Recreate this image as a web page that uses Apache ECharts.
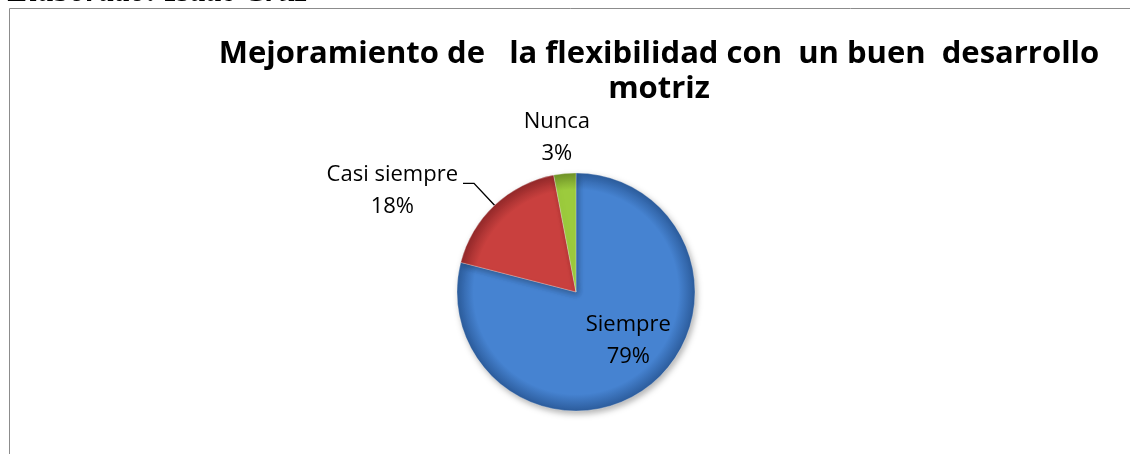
<!DOCTYPE html>
<html>
<head>
<meta charset="utf-8">
<script src="https://cdn.jsdelivr.net/npm/echarts@6/dist/echarts.min.js"></script>
<style>html,body{margin:0;padding:0;background:#fff}#c{width:1130px;height:454px}</style>
</head>
<body>
<div id="c"></div>
<script>
const categories = ['Siempre', 'Casi siempre', 'Nunca'];
const values = [79, 18, 3];
const percentLabels = ['79%', '18%', '3%'];
const titleLines = ['Mejoramiento de   la flexibilidad con  un buen  desarrollo', 'motriz'];
const sourceNote = 'Elaborado: Isaac Cruz';

const cx = 576, cy = 292, R = 119;
function shade(base, dark) {
  return { type: 'radial', x: cx, y: cy, r: R, global: true,
    colorStops: [{offset: 0, color: base}, {offset: 0.86, color: base}, {offset: 1, color: dark}] };
}
const colors = [shade('#4683d1', '#2c5c9c'), shade('#c9403e', '#93292a'), shade('#9ccb3d', '#6f9228')];

const chart = echarts.init(document.getElementById('c'));
const data = categories.map((n, i) => ({ name: n, value: values[i], pct: percentLabels[i] }));
data[1].labelLine = { show: true };
data[0].label = { position: 'inside' };

chart.setOption({
  animation: false,
  graphic: [
    { type: 'rect', shape: { x: 9.5, y: 8.5, width: 1300, height: 600 }, style: { fill: 'none', stroke: '#8c8c8c', lineWidth: 1 }, silent: true },
    { type: 'text', x: 8, y: 9, style: { text: sourceNote, font: 'bold italic 32px "Liberation Serif"', fill: '#000', verticalAlign: 'bottom' } }
  ],
  title: {
    text: titleLines.join('\n'),
    left: 654, top: 32, textAlign: 'center',
    textStyle: { fontFamily: 'Open Sans', fontWeight: 'bold', fontSize: 31, lineHeight: 35, color: '#000' }
  },
  series: [{
    type: 'pie',
    center: [cx, cy],
    radius: R,
    startAngle: 90,
    clockwise: true,
    avoidLabelOverlap: false,
    data: data,
    color: colors,
    itemStyle: { borderColor: 'rgba(255,255,255,0.35)', borderWidth: 0.8, shadowBlur: 6, shadowColor: 'rgba(0,0,0,0.3)', shadowOffsetX: 2, shadowOffsetY: 3 },
    label: {
      show: true, position: 'outside', color: '#000',
      fontFamily: 'Open Sans', fontSize: 22, lineHeight: 32,
      formatter: p => '{a|' + p.name + '}\n{a|' + p.data.pct + '}',
      rich: { a: { align: 'center', fontFamily: 'Open Sans', fontSize: 22, lineHeight: 32, color: '#000' } },
      distanceToLabelLine: 5,
      padding: [14, 0, 0, 0]
    },
    labelLine: { show: false, length: 30, length2: 11, lineStyle: { color: '#000', width: 1.4 } },
    labelLayout: function (p) {
      if (p.dataIndex === 0) return { dx: 14, dy: -8 };
      if (p.dataIndex === 2) return { dx: 44, dy: -13 };
      return {};
    }
  }]
});
</script>
</body>
</html>
